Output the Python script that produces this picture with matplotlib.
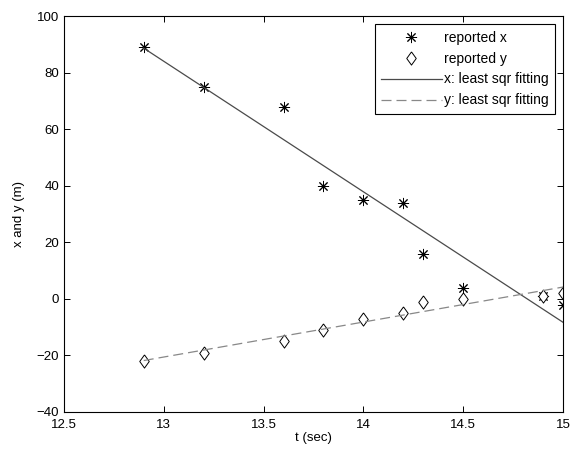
import numpy as np
import matplotlib
matplotlib.use("Agg")
import matplotlib.pyplot as plt

plt.rcParams['font.family'] = ['Liberation Sans', 'DejaVu Sans']

# reported samples
t = [12.9, 13.2, 13.6, 13.8, 14.0, 14.2, 14.3, 14.5, 14.9, 15.0]
x_rep = [89, 75, 68, 40, 35, 34, 16, 4, 1, -2]
y_rep = [-22, -19, -15, -11, -7, -5, -1, 0, 1, 2]

# least squares fits
px = np.polyfit(t, x_rep, 1)
py = np.polyfit(t, y_rep, 1)
t_fit = np.array([min(t), max(t)])

# matlab-ish diamond, a bit taller than wide
diamond = [(0, 1), (0.72, 0), (0, -1), (-0.72, 0), (0, 1)]

fig = plt.figure(figsize=(5.7, 4.51), dpi=100)
ax = fig.add_axes([0.112, 0.0865, 0.876, 0.878])

ax.plot(t, x_rep, linestyle='none', marker=(8, 2, 0), markersize=8,
        color='black', markeredgewidth=0.7, label='reported x')
ax.plot(t, y_rep, linestyle='none', marker=diamond, markersize=9.5,
        markerfacecolor='white', markeredgecolor='black', markeredgewidth=0.7,
        label='reported y')
ax.plot(t_fit, np.polyval(px, t_fit), color='#4a4a4a', linewidth=0.9,
        label='x: least sqr fitting')
ax.plot(t_fit, np.polyval(py, t_fit), color='#888888', linewidth=0.9,
        linestyle=(0, (8, 4)), label='y: least sqr fitting')

ax.set_xlim(12.5, 15)
ax.set_ylim(-40, 100)
ax.set_xticks(np.arange(12.5, 15.01, 0.5))
ax.set_xticklabels(['12.5', '13', '13.5', '14', '14.5', '15'])
ax.set_yticks(np.arange(-40, 101, 20))
ax.tick_params(direction='in', top=True, right=True, labelsize=9.5, length=4,
               width=0.7)
ax.tick_params(axis='x', pad=5)
for s in ax.spines.values():
    s.set_linewidth(0.8)

ax.set_xlabel('t (sec)', fontsize=9.5, labelpad=1)
ax.set_ylabel('x and y (m)', fontsize=9.5, labelpad=8)

leg = ax.legend(loc='upper right', fontsize=10, handlelength=4.4,
                borderaxespad=0.6, fancybox=False, framealpha=1,
                edgecolor='black', borderpad=0.45, labelspacing=0.5,
                handletextpad=0.15)
leg.get_frame().set_linewidth(0.8)

fig.savefig('out.png', dpi=100)
